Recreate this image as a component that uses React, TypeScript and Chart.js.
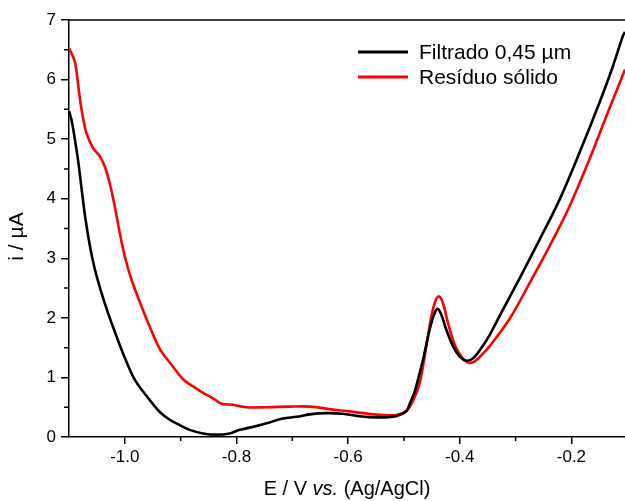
import React, { useEffect, useRef } from "react";
import { Chart, registerables } from "chart.js";

Chart.register(...registerables);

const seriesNames = ["Filtrado 0,45 µm", "Resíduo sólido"];
const seriesColors = ["#000000", "#ff0000"];

const blackE = [
  -1.1, -1.0955, -1.0909, -1.0837, -1.0776, -1.0717, -1.0628, -1.0538, -1.0418, -1.03,
  -1.015, -1.0, -0.982, -0.9553, -0.9374, -0.9195, -0.9016, -0.8837, -0.86, -0.836,
  -0.812, -0.794, -0.77, -0.746, -0.717, -0.692, -0.669, -0.64, -0.61, -0.58,
  -0.549, -0.514, -0.4957, -0.49, -0.481, -0.478, -0.466, -0.454, -0.445, -0.439,
  -0.433, -0.424, -0.412, -0.4, -0.388, -0.3765, -0.361, -0.346, -0.3288, -0.293,
  -0.2572, -0.2214, -0.1856, -0.1498, -0.1258, -0.1079, -0.104,
];
const blackI = [
  5.47, 5.32, 5.08, 4.64, 4.18, 3.74, 3.22, 2.82, 2.42, 2.08,
  1.69, 1.33, 0.96, 0.62, 0.42, 0.29, 0.2, 0.12, 0.06, 0.04,
  0.06, 0.12, 0.17, 0.23, 0.31, 0.34, 0.38, 0.4, 0.39, 0.35,
  0.33, 0.35, 0.43, 0.55, 0.75, 0.85, 1.29, 1.8, 2.08, 2.15,
  2.05, 1.8, 1.52, 1.35, 1.28, 1.32, 1.5, 1.72, 2.03, 2.66,
  3.31, 3.98, 4.77, 5.61, 6.22, 6.73, 6.8,
];

const redE = [
  -1.1, -1.0896, -1.0837, -1.0776, -1.0687, -1.0568, -1.0448, -1.0359, -1.027, -1.018,
  -1.009, -1.0, -0.988, -0.97, -0.9553, -0.9374, -0.9136, -0.8957, -0.8778, -0.86,
  -0.842, -0.827, -0.806, -0.782, -0.746, -0.705, -0.669, -0.627, -0.597, -0.555,
  -0.514, -0.4957, -0.484, -0.472, -0.46, -0.451, -0.443, -0.4373, -0.4302, -0.421,
  -0.409, -0.3972, -0.3854, -0.3734, -0.3585, -0.346, -0.3109, -0.2751, -0.2393, -0.2035,
  -0.1677, -0.1376, -0.1137, -0.104,
];
const redI = [
  6.53, 6.3, 5.92, 5.5, 5.1, 4.85, 4.71, 4.54, 4.26, 3.87,
  3.42, 3.03, 2.64, 2.19, 1.85, 1.48, 1.18, 0.97, 0.85, 0.74,
  0.65, 0.56, 0.54, 0.5, 0.5, 0.51, 0.51, 0.46, 0.43, 0.38,
  0.37, 0.44, 0.6, 0.9, 1.52, 2.02, 2.3, 2.36, 2.25, 1.91,
  1.55, 1.35, 1.25, 1.27, 1.4, 1.53, 1.98, 2.58, 3.2, 3.87,
  4.66, 5.38, 5.94, 6.17,
];

const xTicks = [-1.0, -0.8, -0.6, -0.4, -0.2];
const xMinorTicks = [-0.9, -0.7, -0.5, -0.3];
const yTicks = [0, 1, 2, 3, 4, 5, 6, 7];
const yMinorTicks = [0.5, 1.5, 2.5, 3.5, 4.5, 5.5, 6.5];

const FONT = '"Liberation Sans", Arial, Helvetica, sans-serif';

const decorPlugin = {
  id: "decor",
  afterDraw(chart: any) {
    const { ctx, chartArea } = chart;
    const xs = chart.scales.x;
    const ys = chart.scales.y;
    ctx.save();
    ctx.strokeStyle = "#000";
    ctx.lineWidth = 1.5;
    // top border
    ctx.beginPath();
    ctx.moveTo(chartArea.left, chartArea.top);
    ctx.lineTo(chartArea.right, chartArea.top);
    ctx.stroke();
    // minor ticks
    ctx.beginPath();
    xMinorTicks.forEach((v) => {
      const px = xs.getPixelForValue(v);
      ctx.moveTo(px, chartArea.bottom);
      ctx.lineTo(px, chartArea.bottom + 4);
    });
    yMinorTicks.forEach((v) => {
      const py = ys.getPixelForValue(v);
      ctx.moveTo(chartArea.left, py);
      ctx.lineTo(chartArea.left - 5, py);
    });
    ctx.stroke();

    // legend
    const legendY = [52, 77];
    ctx.textBaseline = "middle";
    ctx.textAlign = "left";
    ctx.font = `21px ${FONT}`;
    seriesNames.forEach((name, k) => {
      ctx.strokeStyle = seriesColors[k];
      ctx.lineWidth = 3;
      ctx.beginPath();
      ctx.moveTo(358, legendY[k]);
      ctx.lineTo(408, legendY[k]);
      ctx.stroke();
      ctx.fillStyle = "#000";
      ctx.fillText(name, 419, legendY[k] + 1);
    });

    // x title
    ctx.fillStyle = "#000";
    ctx.textBaseline = "alphabetic";
    const parts = [
      { t: "E / V ", f: `20px ${FONT}` },
      { t: "vs.", f: `italic 20px ${FONT}` },
      { t: " (Ag/AgCl)", f: `20px ${FONT}` },
    ];
    let total = 0;
    parts.forEach((p) => {
      ctx.font = p.f;
      total += ctx.measureText(p.t).width;
    });
    let cx = (chartArea.left + chartArea.right) / 2 - total / 2;
    parts.forEach((p) => {
      ctx.font = p.f;
      ctx.fillText(p.t, cx, 495);
      cx += ctx.measureText(p.t).width;
    });

    // y title
    ctx.save();
    ctx.translate(17, (chartArea.top + chartArea.bottom) / 2 + 8);
    ctx.rotate(-Math.PI / 2);
    ctx.font = `21px ${FONT}`;
    ctx.textAlign = "center";
    ctx.textBaseline = "middle";
    ctx.fillText("i / µA", 0, 0);
    ctx.restore();

    ctx.restore();
  },
};

export default function App() {
  const ref = useRef<HTMLCanvasElement | null>(null);
  useEffect(() => {
    if (!ref.current) return;
    const mk = (E: number[], I: number[]) => E.map((e, k) => ({ x: e, y: I[k] }));
    const chart = new Chart(ref.current, {
      type: "scatter",
      data: {
        datasets: [
          {
            label: seriesNames[0],
            data: mk(blackE, blackI),
            borderColor: seriesColors[0],
            backgroundColor: seriesColors[0],
            showLine: true,
            pointRadius: 0,
            borderWidth: 2.6,
            tension: 0.35,
          },
          {
            label: seriesNames[1],
            data: mk(redE, redI),
            borderColor: seriesColors[1],
            backgroundColor: seriesColors[1],
            showLine: true,
            pointRadius: 0,
            borderWidth: 2.6,
            tension: 0.35,
          },
        ],
      },
      options: {
        animation: false,
        responsive: false,
        devicePixelRatio: 1,
        layout: { padding: { top: 20, right: 0, left: 0, bottom: 0 } },
        plugins: { legend: { display: false }, tooltip: { enabled: false } },
        scales: {
          x: {
            type: "linear",
            min: -1.1,
            max: -0.104,
            afterBuildTicks: (s: any) => {
              s.ticks = xTicks.map((v) => ({ value: v }));
            },
            afterFit: (s: any) => {
              s.height = 64;
            },
            ticks: {
              color: "#000",
              font: { family: FONT, size: 17 },
              padding: 3,
              maxRotation: 0,
              callback: (v: any) => Number(v).toFixed(1),
            },
            grid: { drawOnChartArea: false, drawTicks: true, tickLength: 7, color: "#000", lineWidth: 1.5 },
            border: { display: true, color: "#000", width: 1.5 },
          },
          y: {
            type: "linear",
            min: 0,
            max: 7,
            afterBuildTicks: (s: any) => {
              s.ticks = yTicks.map((v) => ({ value: v }));
            },
            afterFit: (s: any) => {
              s.width = 69;
            },
            ticks: {
              color: "#000",
              font: { family: FONT, size: 17 },
              padding: 5,
              callback: (v: any) => String(v),
            },
            grid: { drawOnChartArea: false, drawTicks: true, tickLength: 8, color: "#000", lineWidth: 1.5 },
            border: { display: true, color: "#000", width: 1.5 },
          },
        },
      },
      plugins: [decorPlugin],
    });
    return () => chart.destroy();
  }, []);
  return (
    <div style={{ position: "fixed", left: 0, top: 0, width: 625, height: 501, background: "#fff" }}>
      <canvas ref={ref} width={625} height={501} style={{ display: "block" }} />
    </div>
  );
}
